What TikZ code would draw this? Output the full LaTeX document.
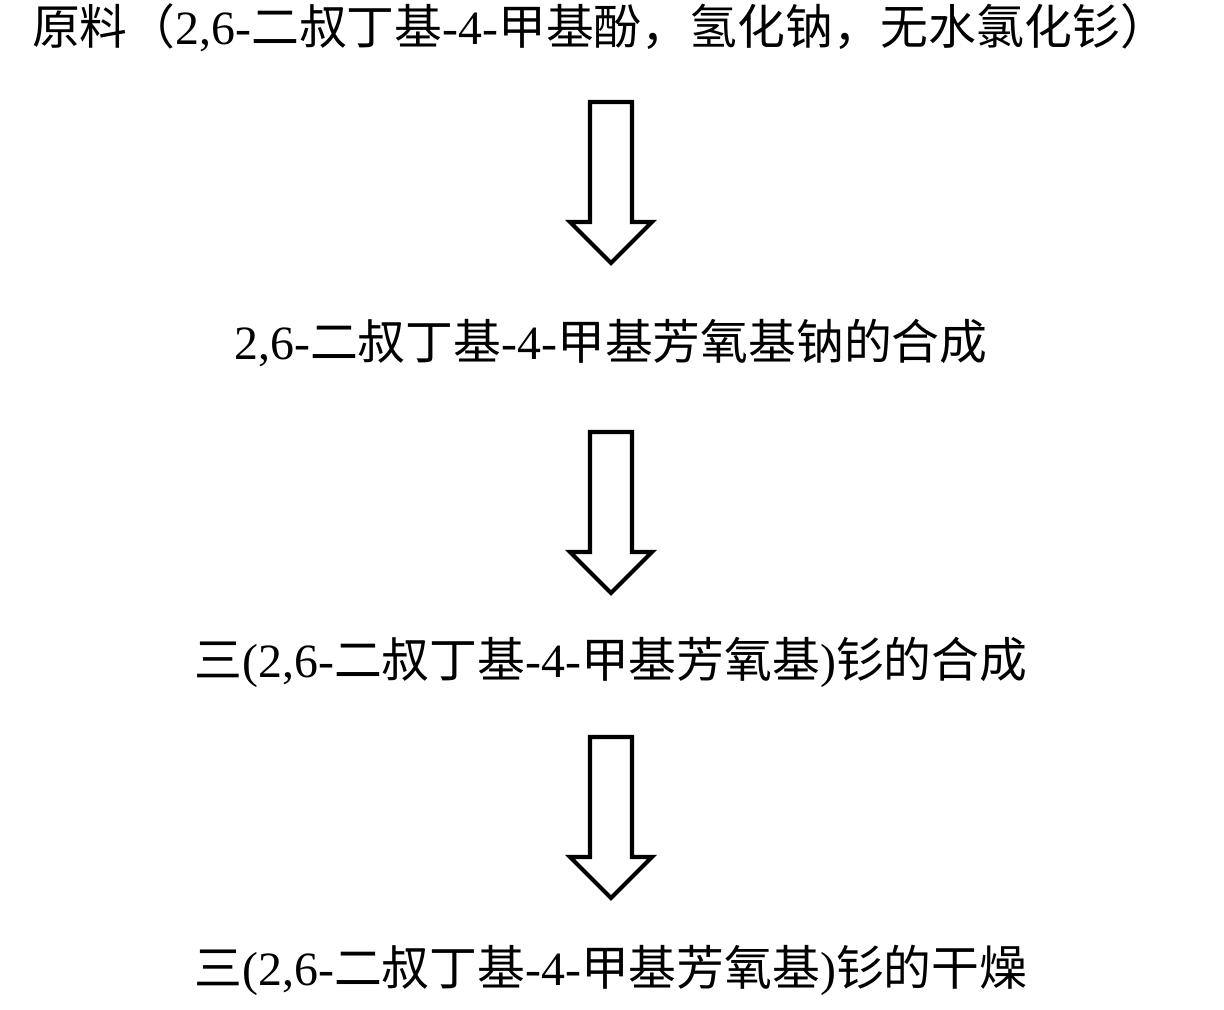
\documentclass[tikz,border=0pt]{standalone}
\usepackage{fontspec}
\setmainfont{Liberation Serif}
\newfontfamily\cjk{Noto Sans CJK SC}
\newcommand{\zh}[1]{{\cjk #1}}
\begin{document}
\begin{tikzpicture}[x=0.01cm,y=-0.01cm,
   step text/.style={inner sep=0pt,font=\fontsize{13.6pt}{16pt}\selectfont},
   hollow arrow/.style={draw,line width=1.2pt,fill=white,line join=miter}]
\useasboundingbox (0,0) rectangle (1224,1010);
% steps
\node[step text] (raw) at (600,28) {\zh{原料（}2,6-\zh{二叔丁基}-4-\zh{甲基酚，氢化钠，无水氯化钐）}};
\node[step text] (sodium) at (611,343) {2,6-\zh{二叔丁基}-4-\zh{甲基芳氧基钠的合成}};
\node[step text] (synth) at (611,662) {\zh{三}(2,6-\zh{二叔丁基}-4-\zh{甲基芳氧基})\zh{钐的合成}};
\node[step text] (dry) at (611,970) {\zh{三}(2,6-\zh{二叔丁基}-4-\zh{甲基芳氧基})\zh{钐的干燥}};
% hollow arrows
\foreach \top in {102,432,737}
  \draw[hollow arrow] (590,\top) -- (632,\top) -- (632,\top+120) -- (652,\top+120)
     -- (611,\top+161) -- (570,\top+120) -- (590,\top+120) -- cycle;
\end{tikzpicture}
\end{document}
